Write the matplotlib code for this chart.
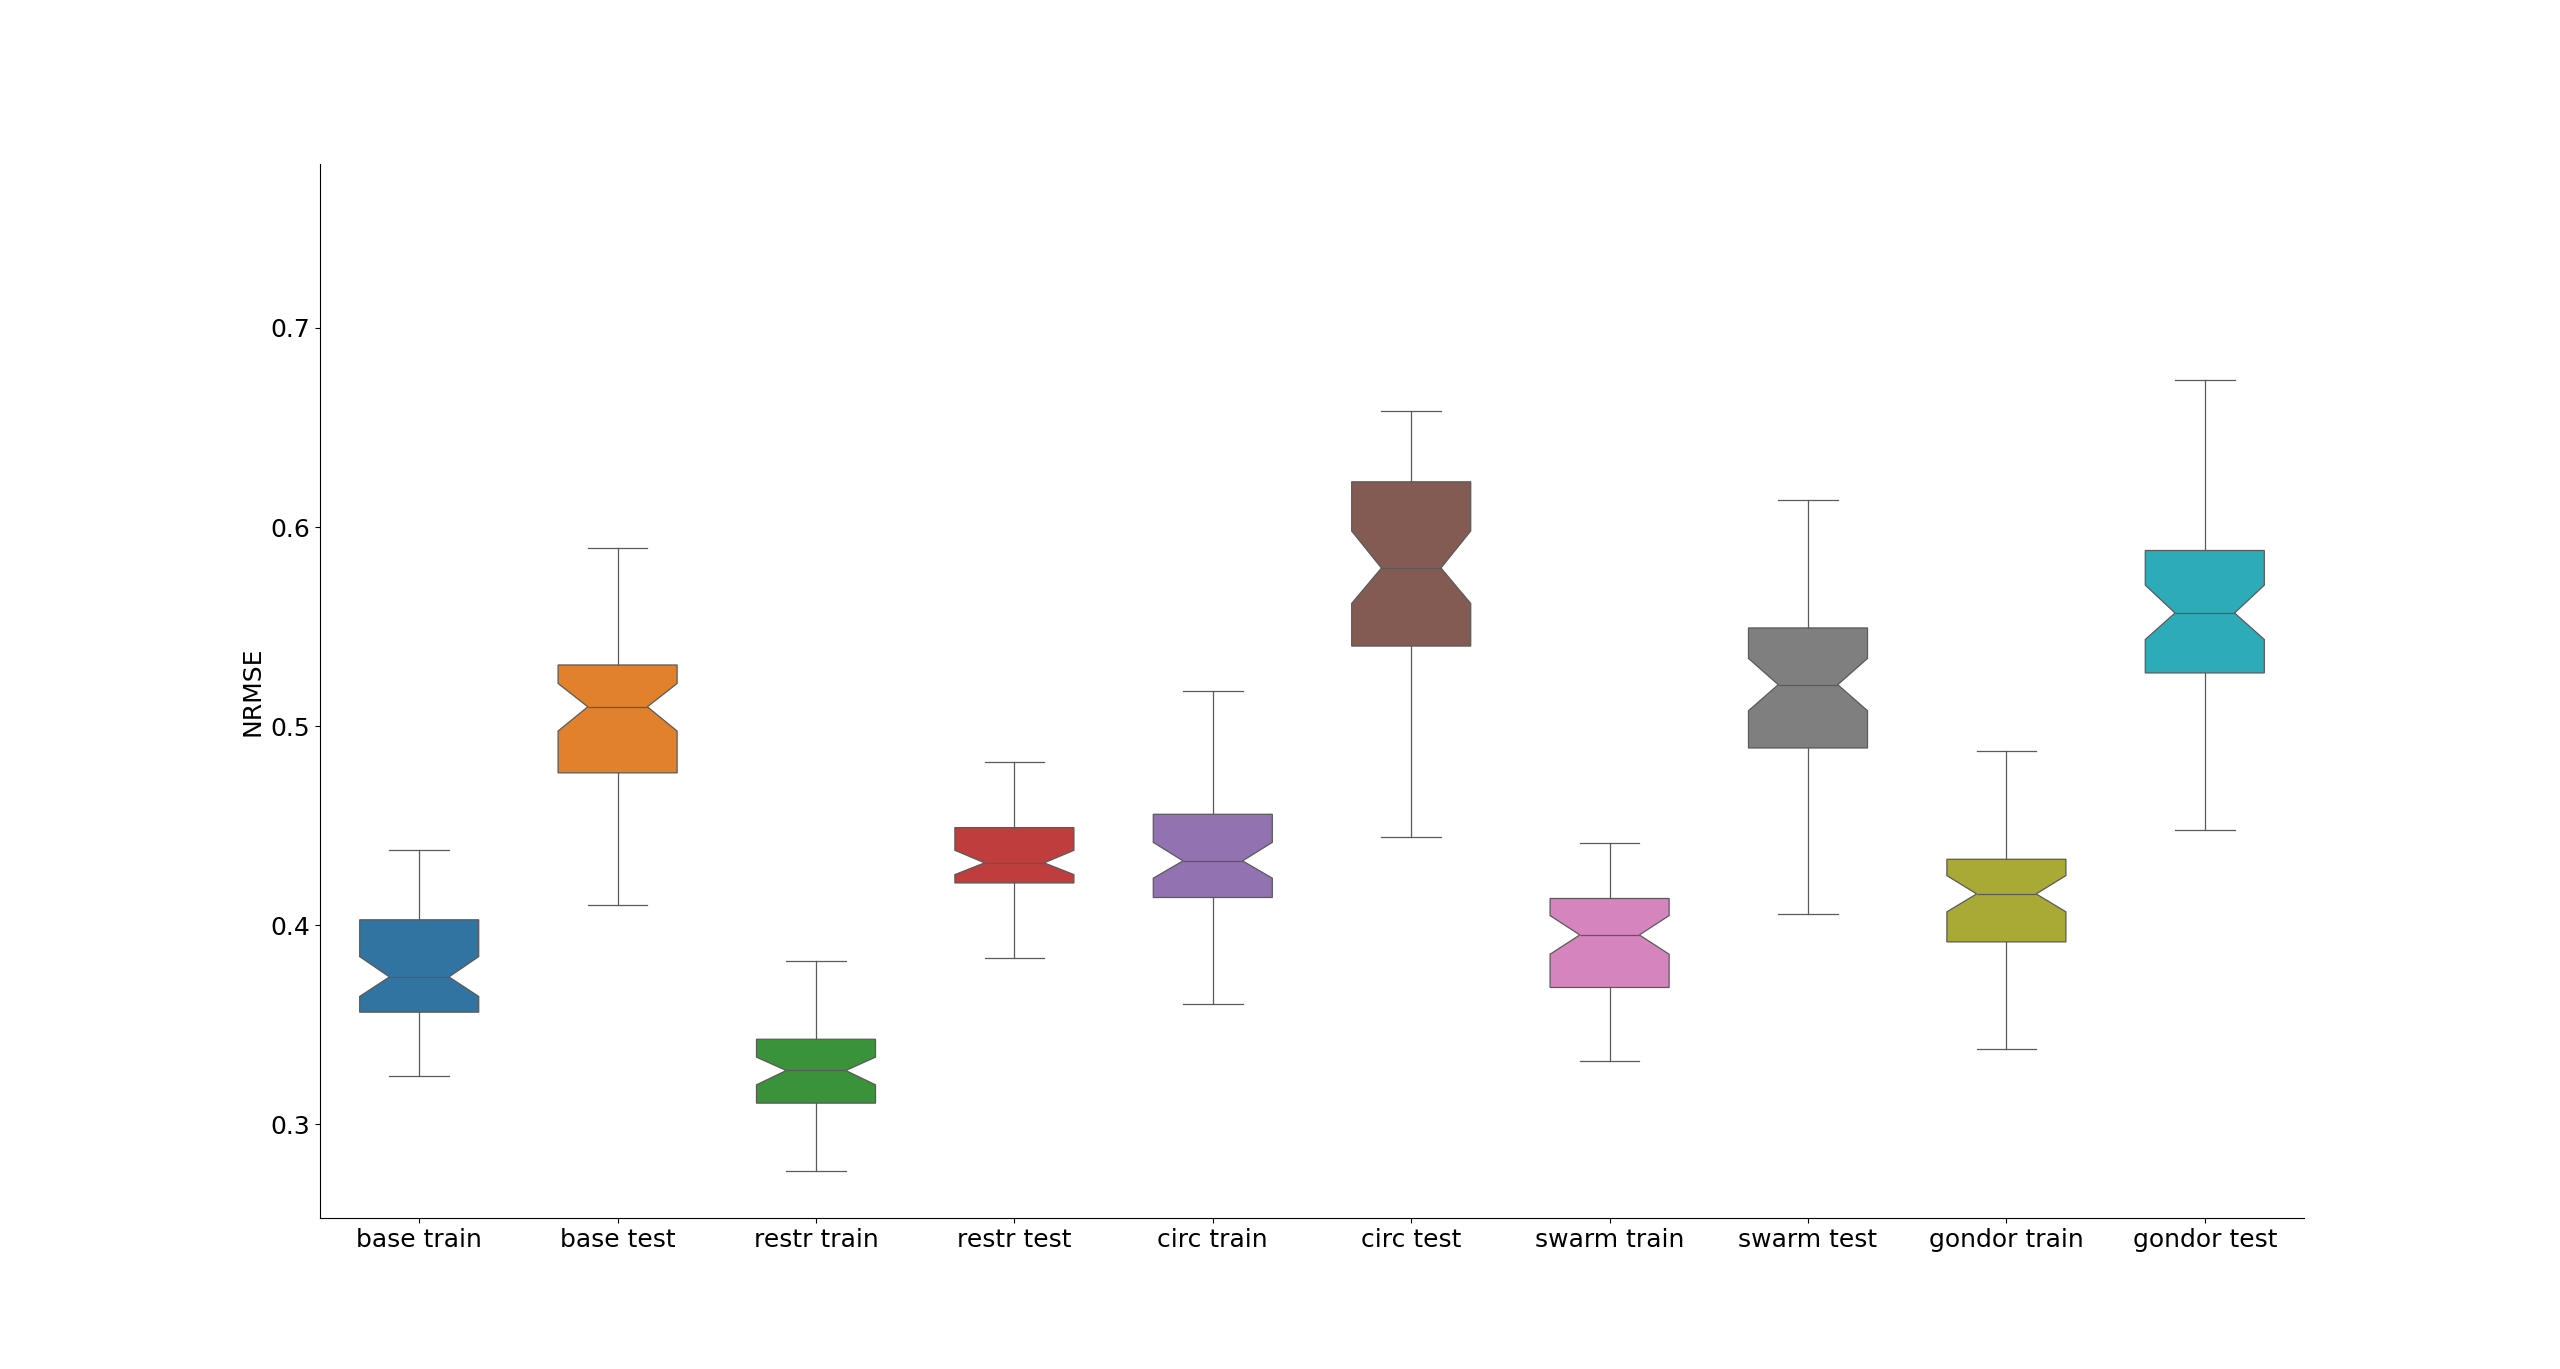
import matplotlib
matplotlib.use("Agg")
import matplotlib.pyplot as plt

# box stats (NRMSE)
labels = ["base train", "base test", "restr train", "restr test", "circ train",
          "circ test", "swarm train", "swarm test", "gondor train", "gondor test"]
whis_lo = [0.3243, 0.4102, 0.2767, 0.3836, 0.3606, 0.4445, 0.3319, 0.4057, 0.3379, 0.4478]
q1      = [0.3563, 0.4765, 0.3106, 0.4212, 0.4139, 0.5402, 0.3687, 0.4890, 0.3916, 0.5267]
ci_lo   = [0.3642, 0.4975, 0.3198, 0.4254, 0.4236, 0.5616, 0.3854, 0.5077, 0.4067, 0.5435]
median  = [0.3740, 0.5097, 0.3270, 0.4313, 0.4323, 0.5794, 0.3951, 0.5208, 0.4157, 0.5568]
ci_hi   = [0.3842, 0.5214, 0.3337, 0.4376, 0.4416, 0.5980, 0.4048, 0.5340, 0.4249, 0.5708]
q3      = [0.4027, 0.5307, 0.3427, 0.4490, 0.4557, 0.6227, 0.4134, 0.5493, 0.4331, 0.5882]
whis_hi = [0.4380, 0.5894, 0.3821, 0.4820, 0.5176, 0.6582, 0.4413, 0.6135, 0.4875, 0.6737]

# seaborn's desaturated tab10
colors = ["#3274a1", "#e1812c", "#3a923a", "#c03d3e", "#9372b2",
          "#845b53", "#d684bd", "#7f7f7f", "#a9aa35", "#2eabb8"]

stats = []
for i in range(len(labels)):
    stats.append(dict(label=labels[i], whislo=whis_lo[i], q1=q1[i], cilo=ci_lo[i],
                      med=median[i], cihi=ci_hi[i], q3=q3[i], whishi=whis_hi[i],
                      fliers=[]))

plt.rcParams["font.size"] = 18
fig, ax = plt.subplots(figsize=(25.6, 13.69), dpi=100)

line_col = "#5a5a5a"
lw = 0.9
bp = ax.bxp(stats, positions=range(len(labels)), widths=0.6, shownotches=True,
            patch_artist=True, showfliers=False,
            boxprops=dict(edgecolor=line_col, linewidth=lw),
            medianprops=dict(color=line_col, linewidth=lw),
            whiskerprops=dict(color=line_col, linewidth=lw),
            capprops=dict(color=line_col, linewidth=lw))
for patch, c in zip(bp["boxes"], colors):
    patch.set_facecolor(c)

ax.set_xlim(-0.5, len(labels) - 0.5)
ax.set_ylim(0.2527, 0.7822)
ax.set_yticks([0.3, 0.4, 0.5, 0.6, 0.7])
ax.set_ylabel("NRMSE")
ax.spines["top"].set_visible(False)
ax.spines["right"].set_visible(False)

fig.savefig("out.png", dpi=100)
